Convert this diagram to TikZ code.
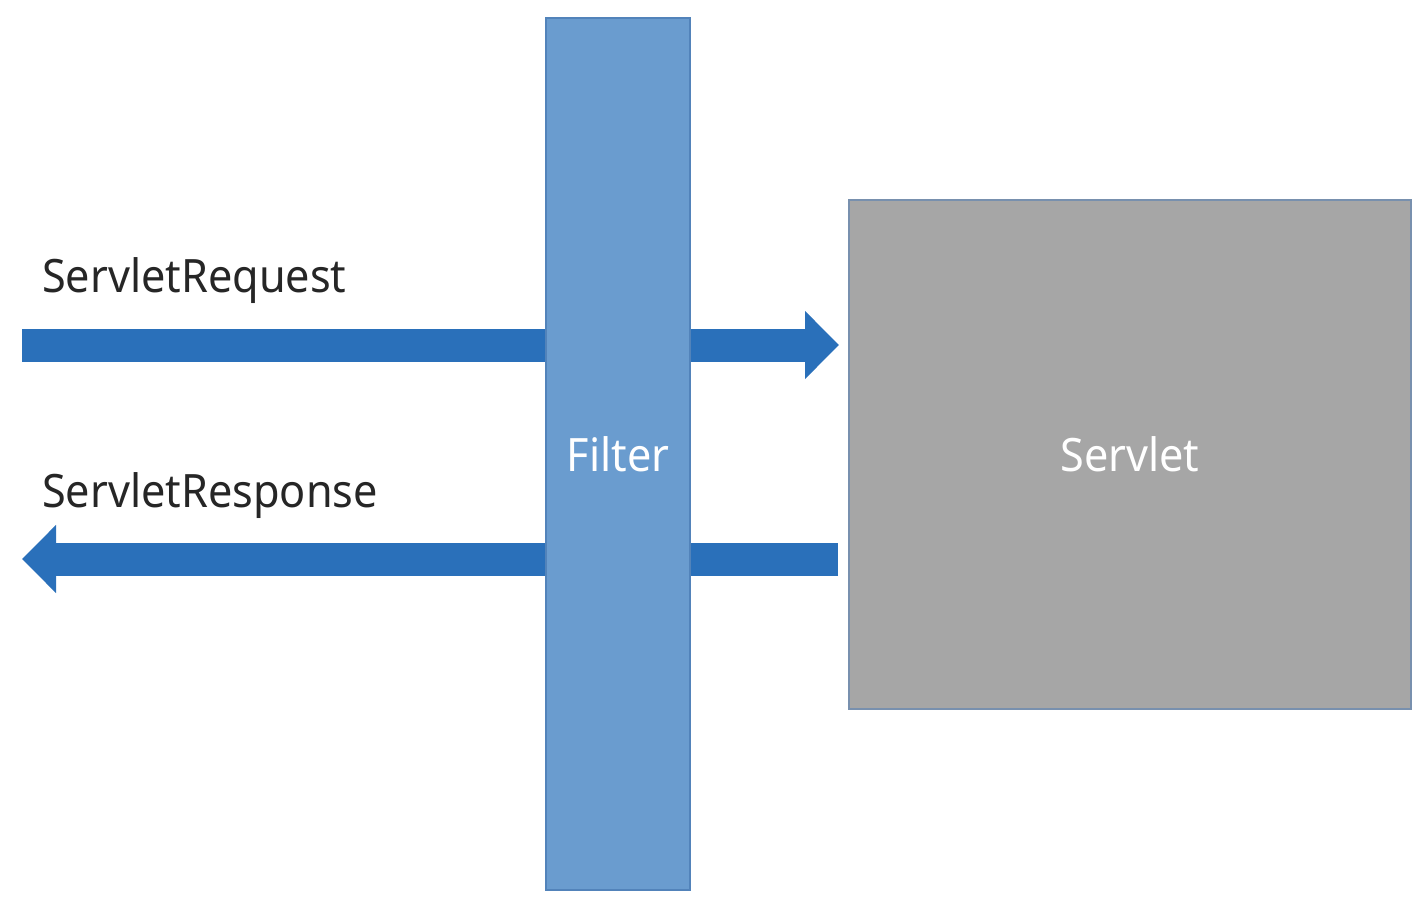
\documentclass[tikz,border=0pt]{standalone}
\usepackage{fontspec}
\newfontfamily\lblfont[FakeStretch=0.94]{Noto Sans}
\usetikzlibrary{arrows.meta}
\definecolor{filterfill}{HTML}{6A9CCF}
\definecolor{filterline}{HTML}{5283BA}
\definecolor{arrowblue}{HTML}{2A70BA}
\definecolor{servletfill}{HTML}{A6A6A6}
\definecolor{servletline}{HTML}{7890AE}
\tikzset{
  blockarrow/.style={draw=arrowblue, line width=33pt,
    -{Triangle[width=66pt,length=34pt]}, shorten >=0pt},
  boxlbl/.style={font=\lblfont\fontsize{46}{52}\selectfont, text=white},
  sidelbl/.style={font=\lblfont\fontsize{46}{52}\selectfont, text=black!85, anchor=base west, inner sep=0pt},
}
\begin{document}
\begin{tikzpicture}[x=1pt,y=-1pt]
\useasboundingbox (0,0) rectangle (1422,918);
\coordinate (reqS) at (22,345);
\coordinate (reqE) at (839,345);
\coordinate (resS) at (838,559);
\coordinate (resE) at (22,559);
\draw[blockarrow] (reqS) -- (reqE);
\draw[blockarrow] (resS) -- (resE);
\node[draw=filterline, fill=filterfill, line width=1.5pt, minimum width=144pt, minimum height=872pt, inner sep=0pt, boxlbl] (filter) at (618,454) {Filter};
\node[draw=servletline, fill=servletfill, line width=1.8pt, minimum width=562pt, minimum height=509pt, inner sep=0pt, boxlbl] (servlet) at (1130,454.5) {Servlet};
\node[sidelbl] (req) at (42,292) {ServletRequest};
\node[sidelbl] (res) at (42,507) {ServletResponse};
\end{tikzpicture}
\end{document}
